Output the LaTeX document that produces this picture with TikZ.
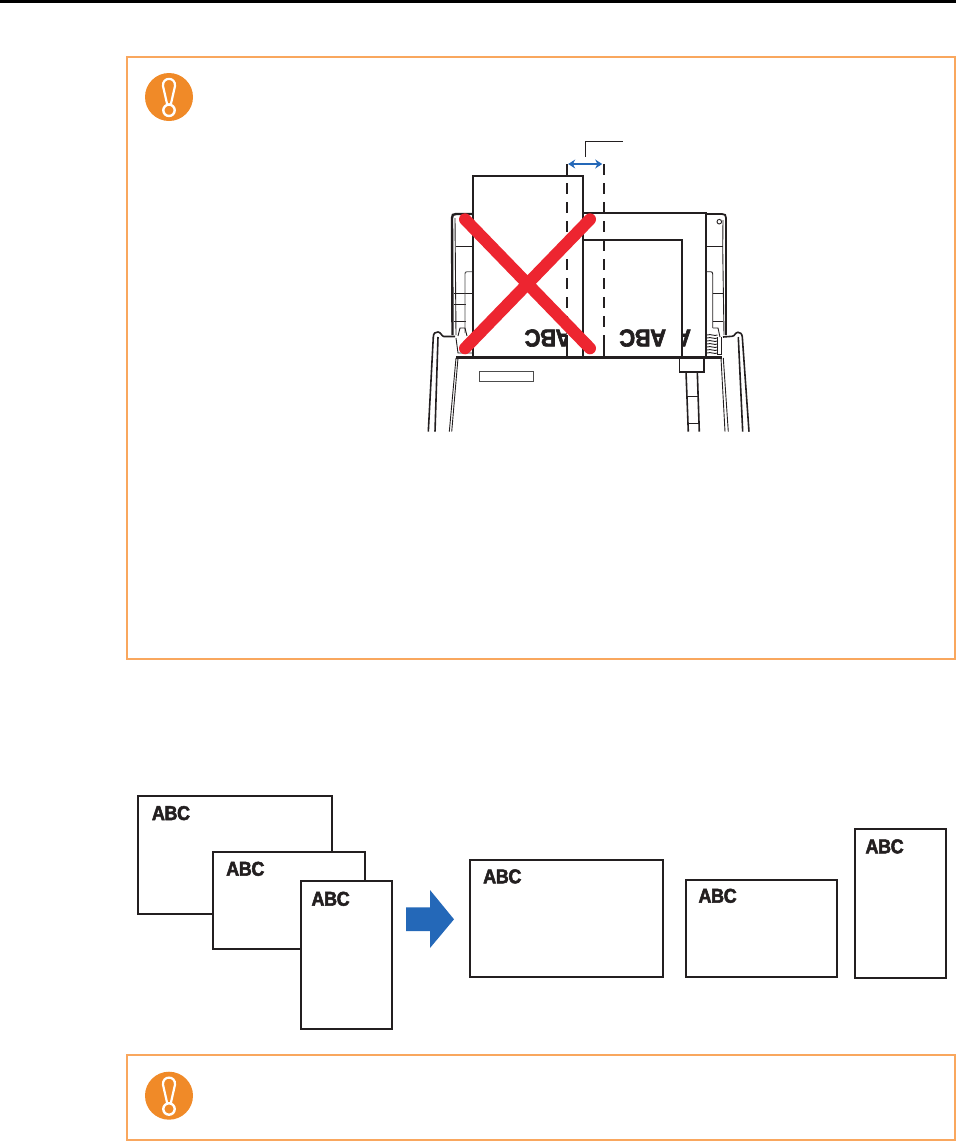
\documentclass[tikz,border=0pt]{standalone}
\usepackage{fontspec}
\usetikzlibrary{arrows.meta}
\newfontfamily\abcfont[UprightFont=* Bold,FakeBold=2.5,FakeStretch=.9,LetterSpace=-2]{Liberation Sans}
\definecolor{boxor}{HTML}{F9A75E}
\definecolor{iconor}{HTML}{F08A28}
\definecolor{ablue}{HTML}{2468B8}
\definecolor{xred}{HTML}{ED2530}
\definecolor{ink}{HTML}{231F20}
\tikzset{
  framebox/.style={draw=boxor,line width=2},
  sheet/.style={draw=ink,fill=white,line width=2.2},
  thinln/.style={draw=ink,line width=.9},
  medln/.style={draw=ink,line width=1.6},
  heavyln/.style={draw=ink,line width=2.4},
  abc/.style={font=\abcfont\fontsize{20}{20}\selectfont,text=ink,inner sep=0,anchor=base west},
  abcbig/.style={font=\abcfont\fontsize{24.5}{24}\selectfont,text=ink,inner sep=0,rotate=180},
  warn/.pic={
    \fill[iconor] (0,0) circle (24);
    \draw[white,line width=2.2,fill=iconor] (-1.8,7.5) -- (-6,-11) .. controls (-6.8,-20.5) and (6.8,-20.5) .. (6,-11) -- (1.8,7.5) -- cycle;
    \draw[white,line width=2.4,fill=iconor] (0,13.3) circle (5.7);
  }
}
\begin{document}
\begin{tikzpicture}[x=1pt,y=-1pt]
\useasboundingbox (0,0) rectangle (956,1141);
\fill[black] (0,0) rectangle (956,3);
% frames
\draw[framebox] (127,57) rectangle (954.5,659);
\draw[framebox] (127,1055) rectangle (954.5,1140);
\pic at (169,97) {warn};
\pic at (169,1095.7) {warn};

% scanner, left side
\draw[heavyln] (452.5,335) -- (452,218) .. controls (452,215) and (453,214) .. (456,214) -- (473,214);
\draw[thinln] (455,218) -- (456,335);
\draw[thinln] (455.7,246.7) -- (473,246.7);
\draw[thinln] (454,293.3) -- (473,293.3);
\draw[thinln] (454,304) -- (466,304);
\draw[thinln] (454,321.7) -- (466,321.7);
\draw[thinln,draw=black!70] (473,271.7) -- (467,271.7) .. controls (465.5,271.7) and (465,272.5) .. (465,274) -- (465,333);
\draw[medln] (428.3,431.7) -- (433.3,337) .. controls (433.6,333) and (435,332) .. (438,332) .. controls (441,332) and (441.5,336.5) .. (444,336.5) -- (455,336.5);
\draw[medln] (435,431.7) -- (438,337);
\draw[thinln] (449.3,431.7) -- (456,358);
\draw[thinln] (451.7,431.7) -- (458,358);
\draw[thinln] (458,336) -- (460,328) -- (465,328) -- (467,336);
\draw[thinln] (456,338) -- (458,353) -- (472,353);

% scanner, right side
\draw[heavyln,line width=1.8] (706.7,214) -- (722,214) .. controls (725,214) and (726,215) .. (726,218) -- (726,335);
\draw[thinln] (723,220) -- (722.7,248) -- (724,335);
\draw[thinln] (706.7,246.7) -- (722.7,246.7);
\draw[thinln] (712.7,293.3) -- (724.3,293.3);
\draw[thinln] (713.3,321.7) -- (723.3,321.7);
\draw[thinln] (706.7,271.7) -- (710.7,271.7) .. controls (712,271.7) and (712.7,272.5) .. (712.7,274) -- (712.7,328);
\draw[thinln] (719.3,221.7) circle (2.3);
\draw[thinln] (713,328) -- (718,328) -- (720,337);
\foreach \yy in {335,338,341,344,347,350,353}
  \draw[thinln] (707,\yy) .. controls (711,\yy-1.5) and (714,\yy+1.5) .. (717.5,\yy);
\draw[thinln] (717.5,337) -- (717.5,354);
\draw[thinln] (721,337) -- (721,354) -- (717,354);
\draw[medln] (749,431.7) -- (742.3,337) .. controls (742,333.5) and (740,332.3) .. (738,332.3) .. controls (735,332.3) and (735,336.3) .. (732,336.3) -- (723,337);
\draw[medln] (742.7,431.7) -- (738.3,337);
\draw[thinln] (728.3,431.7) -- (723.3,358);
\draw[thinln] (725,431.7) -- (721,358);
% feed stalk
\draw[heavyln,fill=white,line width=1.8] (679.5,357) rectangle (704,371.7);
\draw[medln] (686,371.7) -- (688.3,431.7);
\draw[medln] (697.3,371.7) -- (699.3,431.7);
\draw[thinln] (687.3,396.7) -- (698.3,396.7);
\draw[thinln] (688,423) -- (699,423);
\draw[thinln,draw=black!70] (479.3,371) rectangle (533.7,381);

% sheets in the stacker
\draw[sheet] (583,212.7) rectangle (706,357);
\draw[sheet] (583,240) rectangle (682,357);
\begin{scope}
  \clip (682,240) rectangle (706,357);
  \node[abcbig] (tbackrot) at (683,338) {A};
\end{scope}
\node[abcbig] (tmidrot) at (642.7,338) {ABC};
\draw[sheet] (473,175.7) rectangle (583,357);
\begin{scope}
  \clip (473,175.7) rectangle (566.7,357);
  \node[abcbig] (tfrontrot) at (548,338) {ABC};
\end{scope}
\draw[ink,line width=3.2] (456,357.3) -- (721.5,357.3);

% guide width markers
\coordinate (gla) at (566.7,164);
\coordinate (glb) at (566.7,357);
\coordinate (gra) at (603.7,164);
\coordinate (grb) at (603.7,357);
\draw[ink,line width=2,dash pattern=on 11 off 8] (gla) -- (glb);
\draw[ink,line width=2,dash pattern=on 11 off 8] (gra) -- (grb);
\draw[ink,line width=2] (566.7,345) -- (glb);
\draw[ink,line width=2] (603.7,345) -- (grb);

% red cross
\coordinate (xa) at (465,219.3);
\coordinate (xb) at (590,348.3);
\coordinate (xc) at (590,219.3);
\coordinate (xd) at (465,348.3);
\draw[xred,line width=12,line cap=round] (xa) -- (xb);
\draw[xred,line width=12,line cap=round] (xc) -- (xd);

% width arrow and leader
\draw[ablue,line width=2.6,{Stealth[length=7,width=9]}-{Stealth[length=7,width=9]}] ([xshift=1.5]gla) -- ([xshift=-1.5]gra);
\coordinate (lda) at (585.3,156.7);
\coordinate (ldb) at (585.3,141.3);
\coordinate (ldc) at (622.7,141.3);
\draw[ink,line width=1.1] (lda) -- (ldb) -- (ldc);

% lower figure: mixed stack
\draw[sheet] (138.3,795.7) rectangle (331.7,914.3);
\node[abc] (t1) at (151.7,820) {ABC};
\draw[sheet] (212.7,852.3) rectangle (365.3,949.3);
\node[abc] (t2) at (226,875.7) {ABC};
\draw[sheet] (301,880.7) rectangle (392,1028.7);
\node[abc] (t3) at (311.3,905.7) {ABC};
\fill[ablue] (406,907.3) -- (430,907.3) -- (430,890) -- (454,919.3) -- (430,948) -- (430,931) -- (406,931) -- cycle;
\draw[sheet] (470,859.7) rectangle (662.7,977.3);
\node[abc] (t4) at (483,883.3) {ABC};
\draw[sheet] (686,880) rectangle (837,977);
\node[abc] (t5) at (698.3,902.7) {ABC};
\draw[sheet] (855,829) rectangle (946,977.7);
\node[abc] (t6) at (865.3,853.3) {ABC};
\end{tikzpicture}
\end{document}
